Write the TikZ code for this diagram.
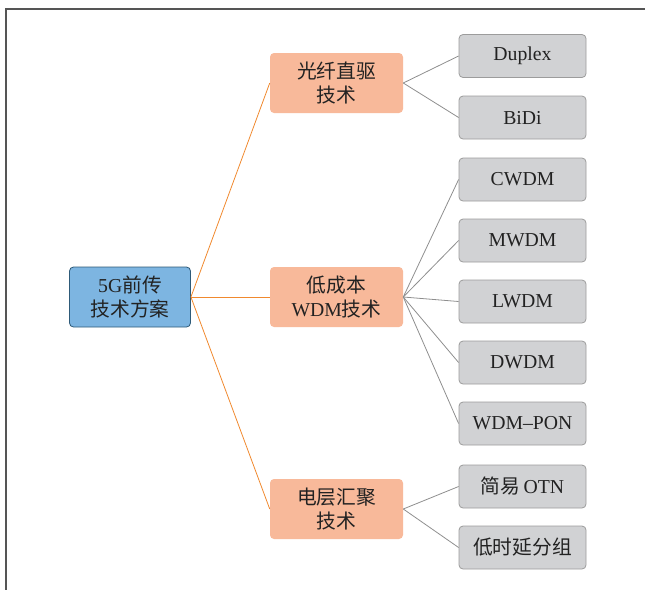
\documentclass[tikz,border=0pt]{standalone}
\usepackage{fontspec}
\setmainfont{Liberation Serif}
\newfontfamily\cjk{Noto Sans CJK SC}
\definecolor{rootfill}{HTML}{7DB5E1}
\definecolor{rootline}{HTML}{2E5A78}
\definecolor{midfill}{HTML}{F8B99A}
\definecolor{leaffill}{HTML}{D1D2D4}
\definecolor{leafline}{HTML}{9C9C9C}
\definecolor{orangeline}{HTML}{F0892E}
\definecolor{grayline}{HTML}{8E8E8E}
\definecolor{txt}{HTML}{222222}
\definecolor{frame}{HTML}{555555}
\begin{document}
\begin{tikzpicture}[x=0.75pt,y=-0.75pt,
  base/.style={rounded corners=3pt,align=center,text=txt,inner sep=0pt,
    font=\fontsize{14.8}{17.5}\selectfont},
  rootbox/.style={base,fill=rootfill,draw=rootline,line width=0.6pt,
    minimum width=90.75pt,minimum height=45pt},
  midbox/.style={base,fill=midfill,minimum width=99.75pt,minimum height=45pt},
  leafbox/.style={base,fill=leaffill,draw=leafline,line width=0.6pt,
    minimum width=95.25pt,minimum height=32.25pt},
  oline/.style={draw=orangeline,line width=0.6pt},
  gline/.style={draw=grayline,line width=0.6pt}]
\useasboundingbox (0,0) rectangle (645,590);
\draw[frame,line width=0.8pt] (645,9) -- (6,9) -- (6,590);
% root
\node[rootbox] (root) at (130,297) {5G{\cjk 前传}\\{\cjk 技术方案}};
% mid
\node[midbox] (m1) at (336.5,83) {{\cjk 光纤直驱}\\{\cjk 技术}};
\node[midbox] (m2) at (336.5,297) {{\cjk 低成本}\\WDM{\cjk 技术}};
\node[midbox] (m3) at (336.5,509) {{\cjk 电层汇聚}\\{\cjk 技术}};
% leaves
\node[leafbox] (l1) at (522.5,56) {Duplex};
\node[leafbox] (l2) at (522.5,117.5) {BiDi};
\node[leafbox] (l3) at (522.5,179.5) {CWDM};
\node[leafbox] (l4) at (522.5,240.5) {MWDM};
\node[leafbox] (l5) at (522.5,301.5) {LWDM};
\node[leafbox] (l6) at (522.5,362.5) {DWDM};
\node[leafbox] (l7) at (522.5,423.5) {WDM–PON};
\node[leafbox] (l8) at (522.5,486.5) {{\cjk 简易}\,OTN};
\node[leafbox] (l9) at (522.5,547.5) {{\cjk 低时延分组}};
% connectors
\foreach \m in {m1,m2,m3} \draw[oline] (root.east) -- (\m.west);
\foreach \l in {l1,l2} \draw[gline] (m1.east) -- (\l.west);
\foreach \l in {l3,l4,l5,l6,l7} \draw[gline] (m2.east) -- (\l.west);
\foreach \l in {l8,l9} \draw[gline] (m3.east) -- (\l.west);
\end{tikzpicture}
\end{document}
